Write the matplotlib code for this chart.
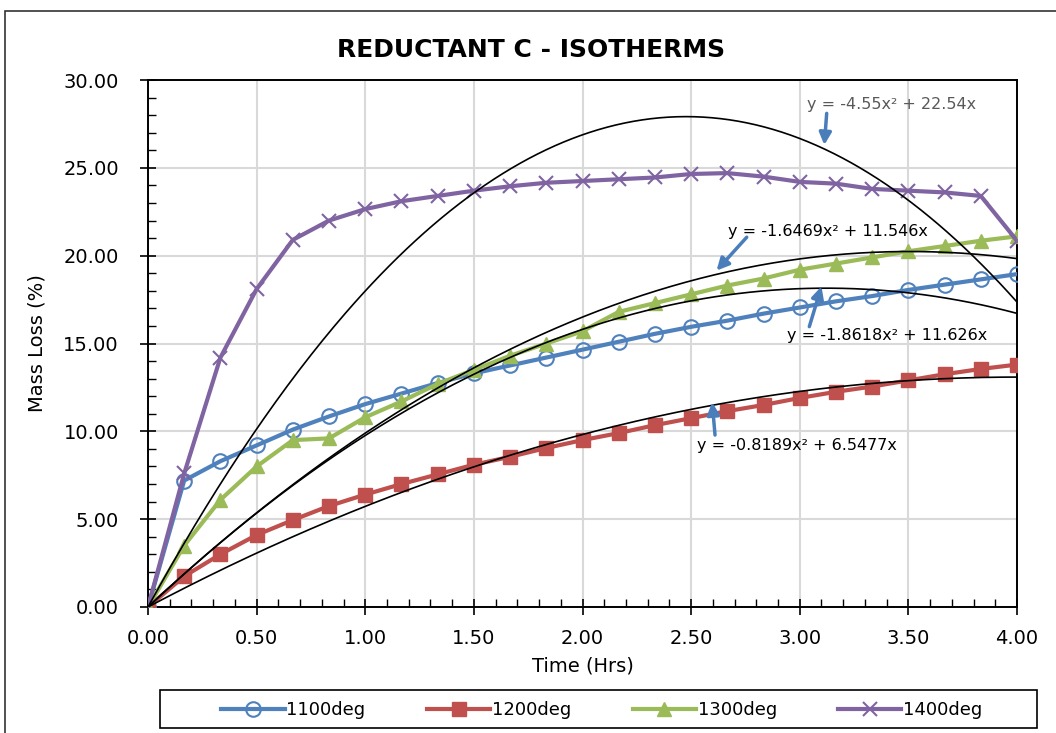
import numpy as np
import matplotlib.pyplot as plt
from matplotlib.patches import Rectangle
from matplotlib.ticker import MultipleLocator, FormatStrFormatter

# time points (hrs)
time_hrs = [0, 1/6, 2/6, 3/6, 4/6, 5/6, 1, 7/6, 8/6, 9/6, 10/6, 11/6, 2,
            13/6, 14/6, 15/6, 16/6, 17/6, 3, 19/6, 20/6, 21/6, 22/6, 23/6, 4]

loss_1100 = [0, 7.2, 8.3, 9.2, 10.1, 10.85, 11.55, 12.15, 12.75, 13.3, 13.75, 14.2, 14.65,
             15.1, 15.55, 15.95, 16.3, 16.7, 17.05, 17.4, 17.7, 18.05, 18.35, 18.65, 18.95]
loss_1200 = [0, 1.75, 3.0, 4.1, 4.95, 5.75, 6.4, 7.0, 7.55, 8.1, 8.55, 9.05, 9.5,
             9.9, 10.35, 10.75, 11.15, 11.5, 11.9, 12.25, 12.55, 12.9, 13.25, 13.55, 13.8]
loss_1300 = [0, 3.5, 6.1, 8.0, 9.5, 9.6, 10.8, 11.7, 12.7, 13.5, 14.3, 15.0, 15.7,
             16.8, 17.3, 17.8, 18.3, 18.7, 19.2, 19.55, 19.9, 20.25, 20.55, 20.85, 21.1]
loss_1400 = [0, 7.6, 14.2, 18.1, 20.9, 22.0, 22.65, 23.1, 23.4, 23.7, 23.95, 24.15, 24.25,
             24.35, 24.45, 24.65, 24.7, 24.5, 24.2, 24.1, 23.8, 23.7, 23.6, 23.4, 20.85]

series_names = ['1100deg', '1200deg', '1300deg', '1400deg']
series_colors = ['#4F81BD', '#C0504D', '#9BBB59', '#8064A2']

# polynomial trendlines (a*x^2 + b*x), coefficients from the chart labels
trend_a = [-1.8618, -0.8189, -1.6469, -4.55]
trend_b = [11.626, 6.5477, 11.546, 22.54]
trend_labels = ['y = -1.8618x² + 11.626x', 'y = -0.8189x² + 6.5477x',
                'y = -1.6469x² + 11.546x', 'y = -4.55x² + 22.54x']
label_pos = [(2.943, 15.45), (2.529, 9.2), (2.671, 21.37), (3.032, 28.63)]
label_colors = ['black', 'black', 'black', '#595959']
arrow_tail = [(3.044, 15.96), (2.610, 9.79), (2.756, 21.05), (3.124, 28.1)]
arrow_tip = [(3.100, 18.25), (2.597, 11.65), (2.617, 19.15), (3.113, 26.3)]

fig = plt.figure(figsize=(10.56, 7.33), dpi=100)
# outer chart border and legend box
fig.patches.append(Rectangle((5/1056, -0.1), 1.2, 1 - 11/733 + 0.1, transform=fig.transFigure,
                             fill=False, edgecolor='#333333', lw=1.2))
fig.patches.append(Rectangle((160/1056, 1 - 728/733), 877/1056, 38/733, transform=fig.transFigure,
                             fill=False, edgecolor='black', lw=1.2))
ax = fig.add_axes([148/1056, 1 - 607/733, 869/1056, 527/733])

markers = [dict(marker='o', markerfacecolor='none', markeredgewidth=1.5, markersize=10.5),
           dict(marker='s', markersize=10),
           dict(marker='^', markersize=10.5),
           dict(marker='x', markeredgewidth=1.5, markersize=10.5)]
all_loss = [loss_1100, loss_1200, loss_1300, loss_1400]
for vals, name, col, mk in zip(all_loss, series_names, series_colors, markers):
    ax.plot(time_hrs, vals, color=col, lw=3, label=name, zorder=3, **mk)

xs = np.linspace(0, 4, 300)
for a, b in zip(trend_a, trend_b):
    ax.plot(xs, a * xs**2 + b * xs, color='black', lw=1.2, zorder=4)

for lab, pos, lc, tail, tip in zip(trend_labels, label_pos, label_colors, arrow_tail, arrow_tip):
    ax.text(pos[0], pos[1], lab, fontsize=11.5, color=lc, va='center', ha='left', zorder=6)
    ax.annotate('', xy=tip, xytext=tail,
                arrowprops=dict(arrowstyle='-|>', color='#4A7EBB', lw=2.5, mutation_scale=18,
                                shrinkA=0, shrinkB=0), zorder=6)

ax.set_xlim(0, 4)
ax.set_ylim(0, 30)
ax.xaxis.set_major_locator(MultipleLocator(0.5))
ax.xaxis.set_minor_locator(MultipleLocator(0.1))
ax.yaxis.set_major_locator(MultipleLocator(5))
ax.yaxis.set_minor_locator(MultipleLocator(1))
ax.xaxis.set_major_formatter(FormatStrFormatter('%.2f'))
ax.yaxis.set_major_formatter(FormatStrFormatter('%.2f'))
ax.tick_params(which='major', direction='inout', length=12, width=1.2, labelsize=14)
ax.tick_params(axis='x', which='major', pad=10)
ax.tick_params(axis='y', which='major', pad=15)
ax.tick_params(which='minor', direction='in', length=6, width=1.0)
ax.grid(True, which='major', color='#D9D9D9', lw=1.5)
ax.set_axisbelow(True)
for s in ax.spines.values():
    s.set_linewidth(1.4)
    s.set_color('black')

ax.set_xlabel('Time (Hrs)', fontsize=14, labelpad=6)
ax.set_ylabel('Mass Loss (%)', fontsize=14, labelpad=12)
fig.text(531/1056, 1 - 50/733, 'REDUCTANT C - ISOTHERMS', fontsize=18, fontweight='bold',
         ha='center', va='center')

leg = fig.legend(loc='center', bbox_to_anchor=(602/1056, 1 - 710/733), ncol=4, fontsize=13,
                 frameon=False, handlelength=3.5, handletextpad=0.1, columnspacing=3.4)

fig.savefig('out.png', dpi=100)
